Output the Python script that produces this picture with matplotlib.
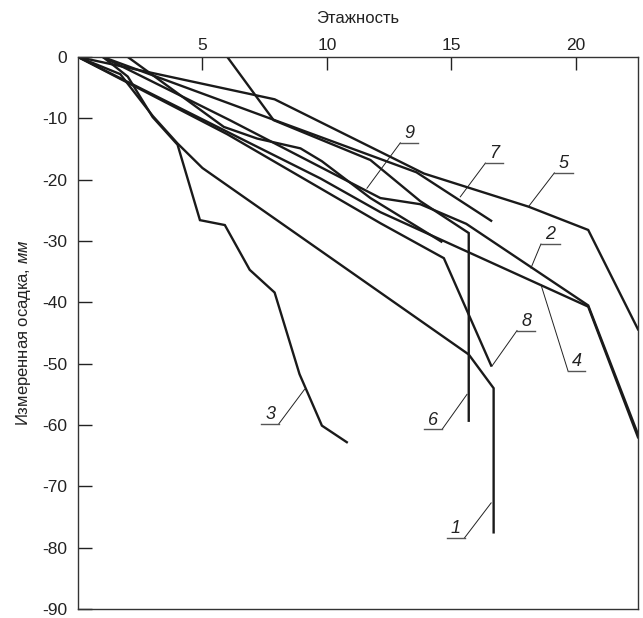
import matplotlib
matplotlib.use("Agg")
import matplotlib.pyplot as plt

plt.rcParams['font.family'] = ['Liberation Sans', 'DejaVu Sans']
plt.rcParams['axes.unicode_minus'] = False
plt.rcParams['mathtext.fontset'] = 'custom'
plt.rcParams['mathtext.rm'] = 'Liberation Sans'
plt.rcParams['mathtext.it'] = 'Liberation Sans:italic'

s1_x = [0, 1.7, 3.0, 4.0, 5.0, 15.7, 16.7, 16.7]
s1_y = [0, -2.8, -9.6, -14.1, -18.1, -48.5, -54.0, -77.5]

s2_x = [1.0, 6.1, 12.15, 13.75, 15.6, 20.5, 22.5]
s2_y = [0, -10.3, -23.0, -24.0, -27.2, -40.5, -61.5]

s3_x = [1.0, 2.0, 3.0, 4.0, 4.9, 5.9, 6.9, 7.9, 8.9, 9.8, 10.8]
s3_y = [0, -3.2, -9.8, -14.3, -26.6, -27.4, -34.7, -38.4, -51.7, -60.1, -62.8]

s4_x = [0, 5.9, 9.74, 12.15, 20.5, 22.5]
s4_y = [0, -12.0, -19.8, -25.3, -40.7, -62.0]

s5_x = [0, 7.9, 13.9, 18.1, 20.5, 22.5]
s5_y = [0, -6.9, -19.0, -24.4, -28.2, -44.4]

s6_x = [6.0, 7.86, 11.75, 13.75, 15.7, 15.7]
s6_y = [0, -10.3, -16.8, -23.5, -28.7, -59.3]

s7_x = [1.0, 13.6, 16.6]
s7_y = [0, -18.8, -26.7]

s8_x = [0, 6.0, 12.15, 14.7, 16.6]
s8_y = [0, -12.6, -27.1, -32.8, -50.3]

s9_x = [2.0, 5.86, 7.2, 8.94, 9.8, 11.75, 14.6]
s9_y = [0, -11.4, -13.3, -14.9, -17.0, -23.0, -30.1]

series = [(s1_x, s1_y), (s2_x, s2_y), (s3_x, s3_y), (s4_x, s4_y), (s5_x, s5_y),
          (s6_x, s6_y), (s7_x, s7_y), (s8_x, s8_y), (s9_x, s9_y)]

x_ticks = [5, 10, 15, 20]
y_ticks = [0, -10, -20, -30, -40, -50, -60, -70, -80, -90]

# curve labels: text, point on curve, elbow, far end of underline
callouts = [
    ("1", (16.6, -72.7), (15.53, -78.4), 14.83),
    ("2", (18.2, -34.4), (18.6, -30.5), 19.35),
    ("3", (9.1, -54.2), (8.07, -59.8), 7.37),
    ("4", (18.6, -37.1), (19.69, -51.2), 20.38),
    ("5", (18.1, -24.4), (19.14, -18.9), 19.87),
    ("6", (15.63, -55.0), (14.63, -60.7), 13.9),
    ("7", (15.36, -22.8), (16.37, -17.3), 17.08),
    ("8", (16.63, -50.4), (17.64, -44.6), 18.38),
    ("9", (11.61, -21.4), (12.95, -14.0), 13.65),
]

fig = plt.figure(figsize=(6.43, 6.18), dpi=100)
ax = fig.add_axes([0.1213, 0.0145, 0.8709, 0.8933])

for xs, ys in series:
    ax.plot(xs, ys, color='#1a1a1a', lw=1.7, solid_joinstyle='miter')

for txt, (px, py), (ex, ey), end in callouts:
    ax.plot([px, ex], [py, ey], color='#222222', lw=0.7)
    ax.plot([ex, end], [ey, ey], color='#555555', lw=1.0)
    ax.annotate(txt, xy=((ex + end) / 2, ey), xytext=(0, 0.5), textcoords='offset points',
                ha='center', va='bottom', fontsize=13, style='italic', color='#222222')

ax.set_xlim(0, 22.5)
ax.set_ylim(-90, 0)
ax.xaxis.tick_top()
ax.xaxis.set_label_position('top')
ax.set_xticks(x_ticks)
ax.set_yticks(y_ticks)
ax.set_yticklabels([str(v) for v in y_ticks])
ax.tick_params(axis='x', direction='in', length=9, width=1, pad=3, labelsize=12.5, colors='#222222')
ax.tick_params(axis='y', direction='in', length=10, width=1, pad=8, labelsize=12.5, colors='#222222')
ax.set_xlabel('Этажность', fontsize=12, labelpad=11, color='#222222')
ax.set_ylabel('Измеренная осадка, $\\mathit{мм}$', fontsize=12, labelpad=6, color='#222222')
for sp in ax.spines.values():
    sp.set_color('#333333')
    sp.set_linewidth(1.0)

fig.savefig('out.png', dpi=100)
